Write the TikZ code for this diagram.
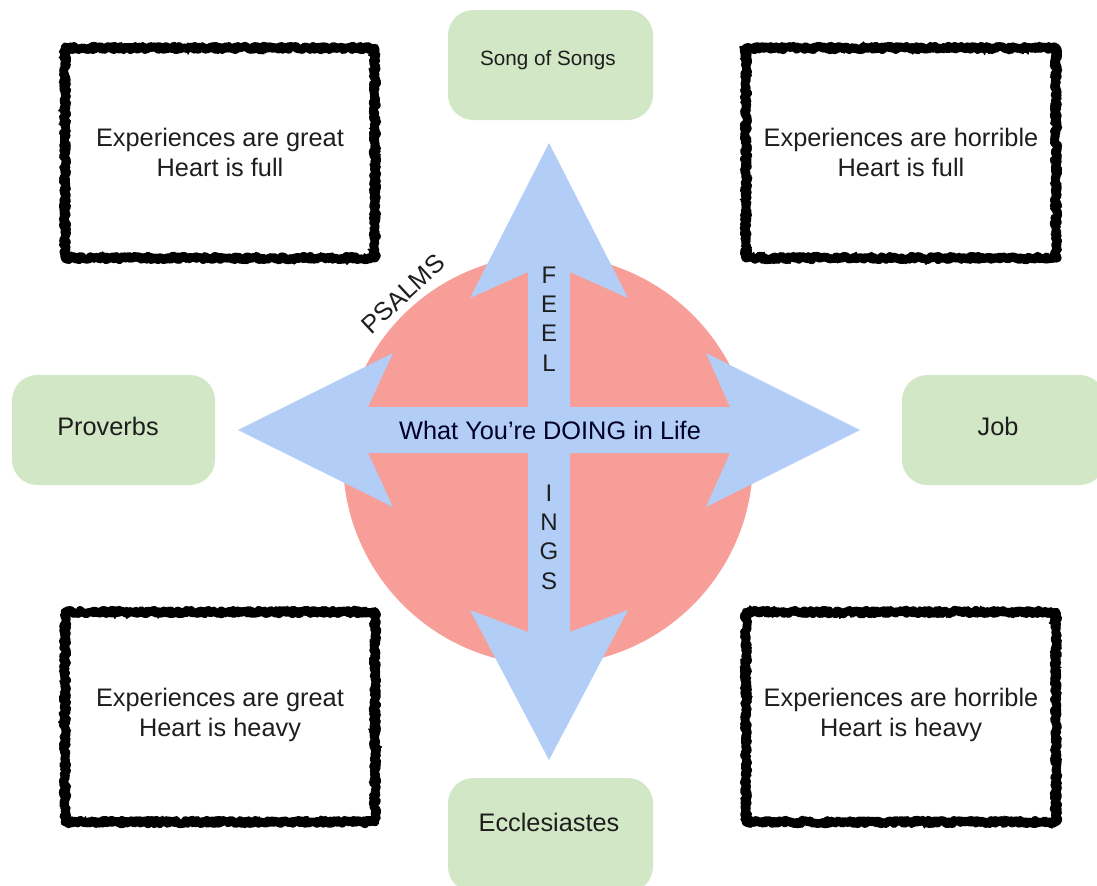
\documentclass[tikz,border=0pt]{standalone}
\usepackage{fontspec}
\setmainfont{Liberation Sans}
\usetikzlibrary{decorations.pathmorphing}

\definecolor{psalmRed}{RGB}{247,158,152}
\definecolor{crossBlue}{RGB}{178,205,246}
\definecolor{bookGreen}{RGB}{209,231,197}
\definecolor{inkGray}{RGB}{30,30,30}

\tikzset{every picture/.style={line width=0.75pt}}
\tikzset{
  roughbox/.style={draw=black, line width=6.5, line join=round,
    decorate, decoration={random steps, segment length=1pt, amplitude=1.4pt},
    postaction={draw=black, line width=1.2, decorate,
      decoration={random steps, segment length=0.8pt, amplitude=3.2pt}}},
  bookbox/.style={fill=bookGreen, draw=none, rounded corners=19pt},
  boxtext/.style={align=center, text=inkGray, font=\fontsize{19}{22.5}\selectfont},
  stacktext/.style={align=center, text=inkGray, font=\fontsize{18}{22}\selectfont}
}

\begin{document}
\begin{tikzpicture}[x=0.75pt,y=0.75pt,yscale=-1,xscale=1]
\useasboundingbox (0,0) rectangle (1097,886);

%Shape: Circle
\fill [psalmRed] (548,460) circle [radius=205];

%Shape: Cross of four arrows
\fill [crossBlue] (549,143) -- (628,298) -- (570,272) -- (570,407) -- (730,407) -- (706,353) -- (860,430) -- (706,507) -- (730,453) -- (570,453) -- (570,632) -- (628,610) -- (549,760) -- (470,610) -- (528,632) -- (528,453) -- (368,453) -- (393,507) -- (238,430) -- (393,353) -- (368,407) -- (528,407) -- (528,272) -- (470,298) -- cycle ;

%Shape: Rough Rectangles
\draw [roughbox] (65,48) rectangle (375,258) ;
\draw [roughbox] (746,48) rectangle (1056,258) ;
\draw [roughbox] (65,612) rectangle (375,822) ;
\draw [roughbox] (746,612) rectangle (1056,822) ;

%Shape: Rounded Rectangles
\draw [bookbox] (448,10) rectangle (653,120) ;
\draw [bookbox] (12,375) rectangle (215,485) ;
\draw [bookbox] (902,375) rectangle (1105,485) ;
\draw [bookbox] (448,778) rectangle (653,892) ;

% Text Node
\node [boxtext] (greatFull) at (220,152) {Experiences are great\\Heart is full};
% Text Node
\node [boxtext] (horribleFull) at (901,152) {Experiences are horrible\\Heart is full};
% Text Node
\node [boxtext] (greatHeavy) at (220,715) {Experiences are great\\Heart is heavy};
% Text Node
\node [boxtext] (horribleHeavy) at (901,715) {Experiences are horrible\\Heart is heavy};

% Text Node
\node [boxtext, font=\fontsize{15.5}{18}\selectfont] (songs) at (548,60) {Song of Songs};
% Text Node
\node [boxtext] (proverbs) at (108,426) {Proverbs};
% Text Node
\node [boxtext] (job) at (998,426) {Job};
% Text Node
\node [boxtext] (eccl) at (549,822) {Ecclesiastes};

% Text Node
\node [boxtext, text=black!85!blue] (doing) at (550,430) {What You’re DOING in Life};
% Text Node
\node [stacktext] (feel) at (549,319) {F\\E\\E\\L};
% Text Node
\node [stacktext] (ings) at (549,537) {I\\N\\G\\S};
% Text Node
\node [boxtext, rotate=43] (psalms) at (403,294) {PSALMS};

\end{tikzpicture}
\end{document}
